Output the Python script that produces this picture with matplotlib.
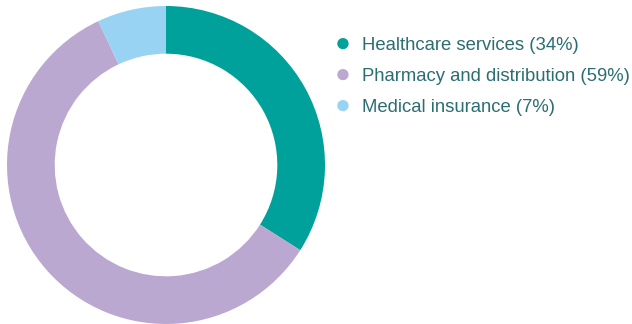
import matplotlib
matplotlib.use("Agg")
import matplotlib.pyplot as plt

labels = ["Healthcare services", "Pharmacy and distribution", "Medical insurance"]
shares = [34, 59, 7]
colors = ["#00A19A", "#BBA8D0", "#98D3F3"]
text_color = "#2B6E72"

plt.rcParams["font.family"] = ["Liberation Sans", "DejaVu Sans"]

fig = plt.figure(figsize=(6.32, 3.24), dpi=100)
ax = fig.add_axes([7 / 632, 0, 318 / 632, 318 / 324])
ax.pie(
    shares,
    colors=colors,
    startangle=90,
    counterclock=False,
    radius=1,
    wedgeprops=dict(width=0.3, linewidth=0),
)
ax.set_xlim(-1, 1)
ax.set_ylim(-1, 1)
ax.set_aspect("equal")
ax.axis("off")

# legend as manual rows
ys = [44, 75, 106]
for lab, val, col, y in zip(labels, shares, colors, ys):
    fy = 1 - y / 324
    fig.text(343 / 632, fy, "\u25CF", color=col, fontsize=19, ha="center", va="center")
    fig.text(362 / 632, fy - 1.5 / 324, f"{lab} ({val}%)", color=text_color, fontsize=13.3,
             ha="left", va="center")

fig.savefig("out.png", dpi=100)
